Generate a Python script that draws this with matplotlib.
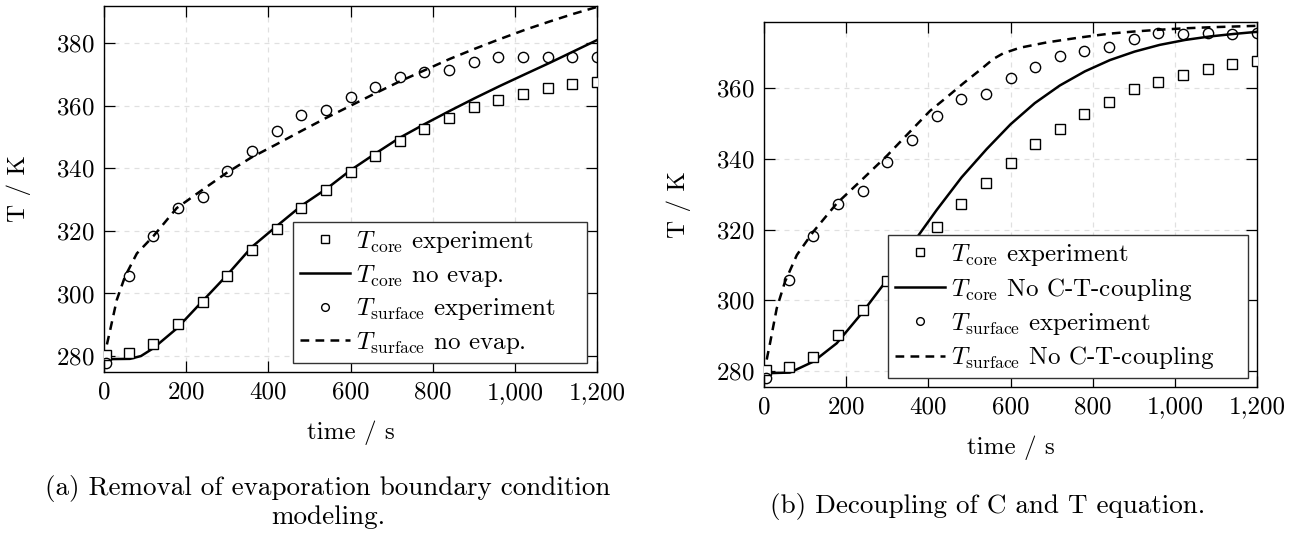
import matplotlib
matplotlib.use("Agg")
import matplotlib.pyplot as plt
from matplotlib.ticker import FuncFormatter, MultipleLocator

plt.rcParams['font.family'] = ['cmr10', 'DejaVu Serif']
plt.rcParams['mathtext.fontset'] = 'cm'
plt.rcParams['axes.formatter.use_mathtext'] = True
plt.rcParams['font.size'] = 18

# experiment (same in both panels)
t_exp = [5, 60, 120, 180, 240, 300, 360, 420, 480, 540, 600, 660, 720, 780,
         840, 900, 960, 1020, 1080, 1140, 1200]
core_exp = [280.2, 281.1, 284.0, 290.1, 297.2, 305.5, 313.8, 320.7, 327.3, 333.2,
            338.8, 344.1, 348.6, 352.6, 356.0, 359.7, 361.7, 363.7, 365.6, 366.9, 367.7]
surf_exp = [277.9, 305.7, 318.3, 327.3, 330.8, 339.2, 345.4, 352.1, 356.9, 358.5,
            362.9, 365.9, 369.1, 370.7, 371.6, 373.9, 375.7, 375.5, 375.7, 375.5, 375.7]

# (a) no evaporation
t_core_a = [0, 63, 90, 120, 177, 238, 299, 360, 420, 482, 543, 600, 659, 720,
            781, 842, 902, 963, 1025, 1086, 1143, 1200]
core_a = [279.0, 279.1, 280.0, 282.5, 288.8, 297.3, 305.8, 314.9, 321.5, 328.2,
          333.6, 339.4, 344.6, 349.8, 354.2, 358.4, 362.4, 366.3, 370.1, 373.8, 377.4, 381.0]
t_surf_a = [0, 5, 15, 31, 51, 80, 120, 177, 238, 299, 359, 420, 481, 542, 600,
            659, 720, 781, 842, 902, 963, 1025, 1086, 1143, 1200]
surf_a = [279.0, 282.5, 288.3, 297.9, 305.4, 312.8, 318.3, 327.3, 333.0, 338.6,
          343.5, 347.7, 352.0, 356.2, 360.0, 363.9, 367.8, 371.4, 375.0, 378.2,
          381.3, 384.3, 387.0, 389.4, 391.6]

# (b) no C-T coupling
t_core_b = [0, 63, 120, 177, 238, 299, 359, 420, 481, 542, 600, 659, 720,
            781, 842, 902, 963, 1025, 1086, 1143, 1200]
core_b = [279.3, 279.5, 282.6, 287.8, 296.3, 305.7, 315.6, 325.5, 334.8, 342.8,
          349.8, 355.8, 360.8, 364.8, 368.0, 370.4, 372.3, 373.7, 374.7, 375.4, 376.0]
t_surf_b = [0, 8, 15, 31, 51, 80, 120, 177, 240, 300, 360, 404, 444, 485, 526,
            558, 582, 623, 688, 769, 842, 902, 963, 1025, 1086, 1143, 1200]
surf_b = [279.0, 284.0, 288.0, 297.7, 305.2, 312.8, 319.4, 327.4, 334.3, 341.0,
          348.3, 353.6, 357.4, 361.4, 365.2, 368.3, 369.9, 371.5, 373.0, 374.4,
          375.5, 376.1, 376.6, 377.0, 377.3, 377.5, 377.7]

fig = plt.figure(figsize=(13, 5.36), dpi=100)
ax1 = fig.add_axes([104/1300, 1-372/536, 493/1300, 366/536])
ax2 = fig.add_axes([764/1300, 1-386.7/536, 493/1300, 364.4/536])


def panel(ax, tc, c, ts, s, name, ylim, yticks, legend_box):
    ax.plot(t_exp, core_exp, ls='none', marker='s', ms=7.6, mfc='white', mec='black',
            mew=1.0, label=r'$T_{\mathrm{core}}$ experiment', zorder=3)
    ax.plot(tc, c, color='black', lw=1.8, label=r'$T_{\mathrm{core}}$ ' + name, zorder=2)
    ax.plot(t_exp, surf_exp, ls='none', marker='o', ms=7.4, mfc='none', mec='black',
            mew=1.0, label=r'$T_{\mathrm{surface}}$ experiment', zorder=3)
    ax.plot(ts, s, color='black', lw=1.8, ls=(0, (3.5, 2.5)),
            label=r'$T_{\mathrm{surface}}$ ' + name, zorder=2)
    ax.set_xlim(0, 1200)
    ax.set_ylim(*ylim)
    ax.set_yticks(yticks)
    ax.xaxis.set_major_locator(MultipleLocator(200))
    ax.xaxis.set_major_formatter(FuncFormatter(lambda v, p: f"{v:,.0f}"))
    ax.grid(True, color='#e0e0e0', ls=(0, (4, 4)), lw=0.9)
    ax.set_axisbelow(True)
    ax.tick_params(direction='in', length=8, width=0.9, top=True, right=True,
                   labelsize=18, pad=7)
    for sp in ax.spines.values():
        sp.set_linewidth(1.0)
    ax.set_xlabel('time / s', fontsize=18, labelpad=12)
    ax.set_ylabel('T / K', fontsize=18, labelpad=18)
    leg = ax.legend(loc='lower left', bbox_to_anchor=legend_box, mode='expand',
                    fontsize=18, frameon=True, fancybox=False, framealpha=1,
                    edgecolor='#333333', borderpad=0.28, labelspacing=0.31,
                    handlelength=2.0, handletextpad=0.25, borderaxespad=0,
                    markerscale=0.75)
    leg.get_frame().set_linewidth(1.0)


panel(ax1, t_core_a, core_a, t_surf_a, surf_a, 'no evap.', (274.9, 391.9),
      [280, 300, 320, 340, 360, 380], (0.383, 0.024, 0.597, 0.386))
panel(ax2, t_core_b, core_b, t_surf_b, surf_b, 'No C-T-coupling', (275.5, 378.7),
      [280, 300, 320, 340, 360], (0.251, 0.023, 0.731, 0.386))

fig.text(328/1300, 1-488/536, '(a) Removal of evaporation boundary condition',
         ha='center', va='center', fontsize=19.5)
fig.text(328/1300, 1-517/536, 'modeling.', ha='center', va='center', fontsize=19.5)
fig.text(988/1300, 1-507/536, '(b) Decoupling of C and T equation.',
         ha='center', va='center', fontsize=19.5)

fig.savefig('out.png', dpi=100)
